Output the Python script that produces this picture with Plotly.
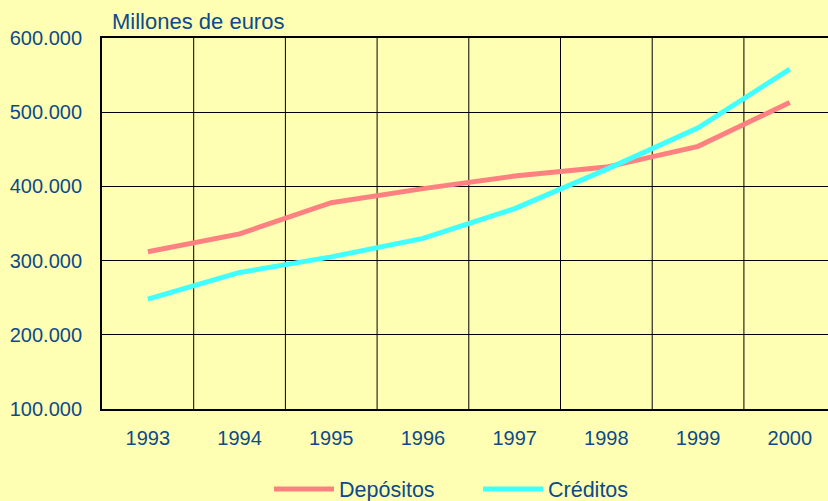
import plotly.graph_objects as go

years = ["1993", "1994", "1995", "1996", "1997", "1998", "1999", "2000"]
depositos = [312000, 336000, 378000, 397000, 414000, 426000, 454000, 513000]
creditos = [248000, 284000, 305000, 330000, 370000, 423000, 479000, 558000]
y_ticks = [100000, 200000, 300000, 400000, 500000, 600000]
y_tick_labels = ["100.000", "200.000", "300.000", "400.000", "500.000", "600.000"]

txt = "#0D4A8A"
font = "Liberation Sans, Arial, sans-serif"

fig = go.Figure()
fig.add_trace(go.Scatter(x=years, y=depositos, name="Depósitos", mode="lines",
                         line=dict(color="#FF8080", width=5)))
fig.add_trace(go.Scatter(x=years, y=creditos, name="Créditos", mode="lines",
                         line=dict(color="#40FFFF", width=5)))

fig.update_layout(
    width=828, height=501,
    margin=dict(l=102, r=0, t=38, b=92),
    paper_bgcolor="#FFFFB4", plot_bgcolor="#FFFFB4",
    font=dict(family=font, size=20, color=txt),
    showlegend=True,
    legend=dict(orientation="h", xref="container", yref="container",
                x=(277 - 8) / 828, xanchor="left", y=(501 - 489) / 501, yanchor="middle",
                font=dict(size=21.5, color=txt), bgcolor="rgba(0,0,0,0)",
                itemwidth=60, entrywidth=134, entrywidthmode="pixels"),
    annotations=[dict(text="Millones de euros", xref="paper", yref="paper",
                      x=0.015, y=1.0, xanchor="left", yanchor="bottom",
                      xshift=-3, yshift=2, showarrow=False, font=dict(size=22, color=txt))],
)

fig.update_xaxes(type="category", range=[-0.5, 7.417],
                 showgrid=False, showline=True, linecolor="black", linewidth=2,
                 mirror=True, ticks="", ticklabelstandoff=10,
                 tickfont=dict(size=20, color=txt))
fig.update_yaxes(range=[100000, 600000], tickvals=y_ticks, ticktext=y_tick_labels,
                 showgrid=True, gridcolor="black", gridwidth=1,
                 showline=True, linecolor="black", linewidth=2,
                 zeroline=False, ticks="", ticklabelstandoff=14,
                 tickfont=dict(size=20, color=txt))

# vertical gridlines between categories
for i in range(1, 8):
    fig.add_shape(type="line", xref="x", yref="paper", x0=i - 0.5, x1=i - 0.5,
                  y0=0, y1=1, line=dict(color="black", width=1), layer="below")

fig.write_html("out.html", config={"displayModeBar": False},
               post_script="document.body.style.margin='0';document.body.style.background='#FFFFB4';")
